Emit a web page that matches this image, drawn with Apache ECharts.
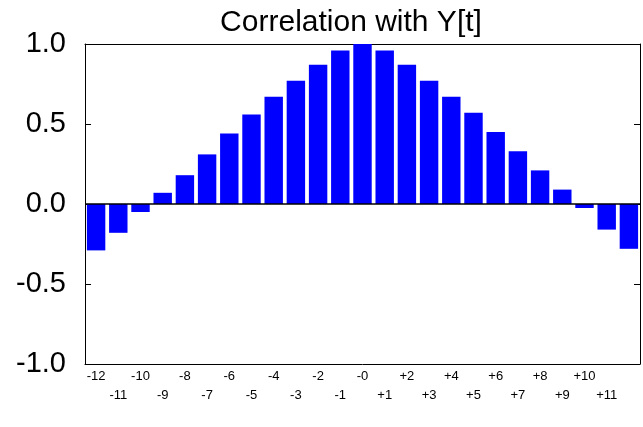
<!DOCTYPE html>
<html>
<head>
<meta charset="utf-8">
<script src="https://cdn.jsdelivr.net/npm/echarts@6/dist/echarts.min.js"></script>
<style>
  html, body { margin: 0; padding: 0; background: #fff; }
  #chart { width: 643px; height: 427px; }
</style>
</head>
<body>
<div id="chart"></div>
<script>
// lags of Y[t]
const lags = ['-12', '-11', '-10', '-9', '-8', '-7', '-6', '-5', '-4', '-3', '-2', '-1', '-0',
  '+1', '+2', '+3', '+4', '+5', '+6', '+7', '+8', '+9', '+10', '+11', '+12']
// tick labels shown under the bars (last one is not printed in the original)
const tickLabels = ['-12', '-11', '-10', '-9', '-8', '-7', '-6', '-5', '-4', '-3', '-2', '-1', '-0',
  '+1', '+2', '+3', '+4', '+5', '+6', '+7', '+8', '+9', '+10', '+11', '']
// correlation values
const corr = [-0.29, -0.18, -0.05, 0.07, 0.18, 0.31, 0.44, 0.56, 0.67, 0.77, 0.87, 0.96, 1.0,
  0.96, 0.87, 0.77, 0.67, 0.57, 0.45, 0.33, 0.21, 0.09, -0.025, -0.16, -0.28]
const yTicks = { min: -1, max: 1, step: 0.5 }

const chart = echarts.init(document.getElementById('chart'))
const font = 'Liberation Sans, Arial, sans-serif'

const option = {
  animation: false,
  title: {
    text: 'Correlation with Y[t]',
    left: 346,
    textAlign: 'center',
    top: 3,
    textStyle: { fontFamily: font, fontSize: 30, fontWeight: 'normal', color: '#000' }
  },
  grid: { left: 85, right: 3, top: 44, bottom: 63 },
  xAxis: [
    {
      type: 'category',
      data: lags,
      position: 'bottom',
      axisLine: { onZero: false, lineStyle: { color: '#000', width: 1 } },
      axisTick: { inside: true, length: 4, alignWithLabel: true, lineStyle: { color: '#000' } },
      axisLabel: {
        interval: 0,
        margin: 3,
        fontFamily: font,
        fontSize: 13,
        lineHeight: 19,
        color: '#000',
        formatter: (v, i) => (i % 2 ? '\n' : '') + tickLabels[i]
      }
    },
    {
      type: 'category',
      data: lags,
      position: 'top',
      axisLine: { onZero: false, lineStyle: { color: '#000', width: 1 } },
      axisTick: { show: false },
      axisLabel: { show: false }
    }
  ],
  yAxis: [
    {
      type: 'value',
      min: yTicks.min,
      max: yTicks.max,
      interval: yTicks.step,
      axisLine: { show: true, lineStyle: { color: '#000' } },
      axisTick: { show: true, inside: true, length: 6, lineStyle: { color: '#000' } },
      splitLine: { show: false },
      axisLabel: {
        margin: 19,
        fontFamily: font,
        fontSize: 29,
        color: '#000',
        formatter: v => v.toFixed(1)
      }
    },
    {
      type: 'value',
      min: yTicks.min,
      max: yTicks.max,
      interval: yTicks.step,
      position: 'right',
      axisLine: { show: true, lineStyle: { color: '#000' } },
      axisTick: { show: true, inside: true, length: 6, lineStyle: { color: '#000' } },
      splitLine: { show: false },
      axisLabel: { show: false }
    }
  ],
  series: [
    {
      type: 'bar',
      data: corr,
      barCategoryGap: '17%',
      itemStyle: { color: '#0000ff' },
      markLine: {
        silent: true,
        symbol: 'none',
        label: { show: false },
        lineStyle: { color: '#000', width: 1.5, type: 'solid' },
        data: [{ yAxis: 0 }]
      }
    }
  ]
}
chart.setOption(option)
</script>
</body>
</html>
